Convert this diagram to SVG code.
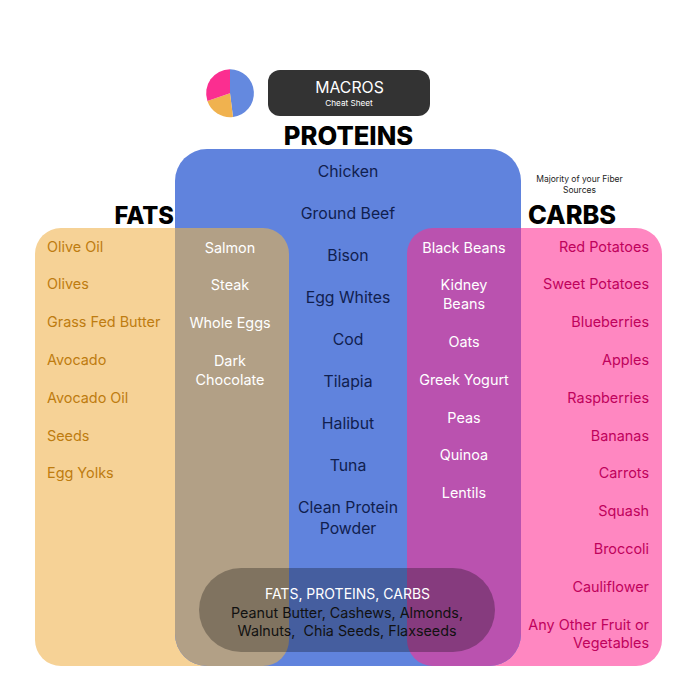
<svg xmlns="http://www.w3.org/2000/svg" width="684" height="685" viewBox="0 0 684 685">
<style>
text{font-family:"Inter","Liberation Sans",sans-serif;font-size:14.4px}
.m{text-anchor:middle}
.e{text-anchor:end}
.h{font-weight:800;font-size:23.7px;fill:#000}
.f{fill:#BE7C10}
.c{fill:#C0025C}
.b{fill:#10204F;font-size:15.8px}
.w{fill:#fff}
.k{fill:#111;font-size:14.3px;white-space:pre}
</style>
<defs>
<clipPath id="cp"><rect x="175" y="149" width="346" height="517" rx="32"/></clipPath>
</defs>
<rect width="684" height="685" fill="#fff"/>
<g id="fats-panel"><rect x="35" y="228" width="254" height="438" rx="26" fill="#F6D296"/></g>
<g id="carbs-panel"><rect x="407" y="228" width="255" height="438" rx="26" fill="#FF87C1"/></g>
<g id="proteins-panel"><rect x="175" y="149" width="346" height="517" rx="32" fill="#6083DD"/></g>
<g id="overlap-fats" clip-path="url(#cp)"><rect x="35" y="228" width="254" height="438" rx="26" fill="#B2A086"/></g>
<g id="overlap-carbs" clip-path="url(#cp)"><rect x="407" y="228" width="255" height="438" rx="26" fill="#BA52AF"/></g>
<g id="all-three">
<rect x="199" y="568" width="296" height="84" rx="42" fill="#000" fill-opacity=".28"/>
<text class="m w" x="347.5" y="599" style="font-size:14px">FATS, PROTEINS, CARBS</text>
<text class="m k" x="347" y="618">Peanut Butter, Cashews, Almonds,</text>
<text class="m k" x="347" y="636">Walnuts,  Chia Seeds, Flaxseeds</text>
</g>
<g id="pie">
<path d="M230 93.3V69.3A24 24 0 0 1 233 117.1Z" fill="#6489DF"/>
<path d="M230 93.3L233 117.1A24 24 0 0 1 207.4 101Z" fill="#F0B24F"/>
<path d="M230 93.3L207.4 101A24 24 0 0 1 230 69.3Z" fill="#FB2E90"/>
</g>
<g id="title">
<rect x="268" y="70" width="162" height="46" rx="12" fill="#333"/>
<text class="m w" x="349.5" y="93" style="font-size:15.8px">MACROS</text>
<text class="m w" x="349" y="106" style="font-size:8.2px">Cheat Sheet</text>
</g>
<g id="headings">
<text class="h m" x="348.5" y="145" style="font-size:25.6px">PROTEINS</text>
<text class="h" x="114.5" y="224">FATS</text>
<text class="h" x="528" y="224" style="font-size:25.4px">CARBS</text>
<text class="m" x="579.5" y="182" style="font-size:8.5px;fill:#222">Majority of your Fiber</text>
<text class="m" x="579.5" y="193" style="font-size:8.5px;fill:#222">Sources</text>
</g>
<g id="fats-list">
<text class="f" x="47" y="252">Olive Oil</text>
<text class="f" x="47" y="289">Olives</text>
<text class="f" x="47" y="327">Grass Fed Butter</text>
<text class="f" x="47" y="365">Avocado</text>
<text class="f" x="47" y="403">Avocado Oil</text>
<text class="f" x="47" y="441">Seeds</text>
<text class="f" x="47" y="478">Egg Yolks</text>
</g>
<g id="fats-proteins-list">
<text class="m w" x="230" y="253">Salmon</text>
<text class="m w" x="230" y="290">Steak</text>
<text class="m w" x="230" y="328">Whole Eggs</text>
<text class="m w" x="230" y="366">Dark</text>
<text class="m w" x="230" y="385">Chocolate</text>
</g>
<g id="proteins-list">
<text class="m b" x="348" y="177">Chicken</text>
<text class="m b" x="348" y="219">Ground Beef</text>
<text class="m b" x="348" y="261">Bison</text>
<text class="m b" x="348" y="303">Egg Whites</text>
<text class="m b" x="348" y="345">Cod</text>
<text class="m b" x="348" y="387">Tilapia</text>
<text class="m b" x="348" y="429">Halibut</text>
<text class="m b" x="348" y="471">Tuna</text>
<text class="m b" x="348" y="513">Clean Protein</text>
<text class="m b" x="348" y="534">Powder</text>
</g>
<g id="proteins-carbs-list">
<text class="m w" x="464" y="253">Black Beans</text>
<text class="m w" x="464" y="290">Kidney</text>
<text class="m w" x="464" y="309">Beans</text>
<text class="m w" x="464" y="347">Oats</text>
<text class="m w" x="464" y="385">Greek Yogurt</text>
<text class="m w" x="464" y="423">Peas</text>
<text class="m w" x="464" y="460">Quinoa</text>
<text class="m w" x="464" y="498">Lentils</text>
</g>
<g id="carbs-list">
<text class="e c" x="649" y="252">Red Potatoes</text>
<text class="e c" x="649" y="289">Sweet Potatoes</text>
<text class="e c" x="649" y="327">Blueberries</text>
<text class="e c" x="649" y="365">Apples</text>
<text class="e c" x="649" y="403">Raspberries</text>
<text class="e c" x="649" y="441">Bananas</text>
<text class="e c" x="649" y="478">Carrots</text>
<text class="e c" x="649" y="516">Squash</text>
<text class="e c" x="649" y="554">Broccoli</text>
<text class="e c" x="649" y="592">Cauliflower</text>
<text class="e c" x="649" y="630">Any Other Fruit or</text>
<text class="e c" x="649" y="648">Vegetables</text>
</g>
</svg>
